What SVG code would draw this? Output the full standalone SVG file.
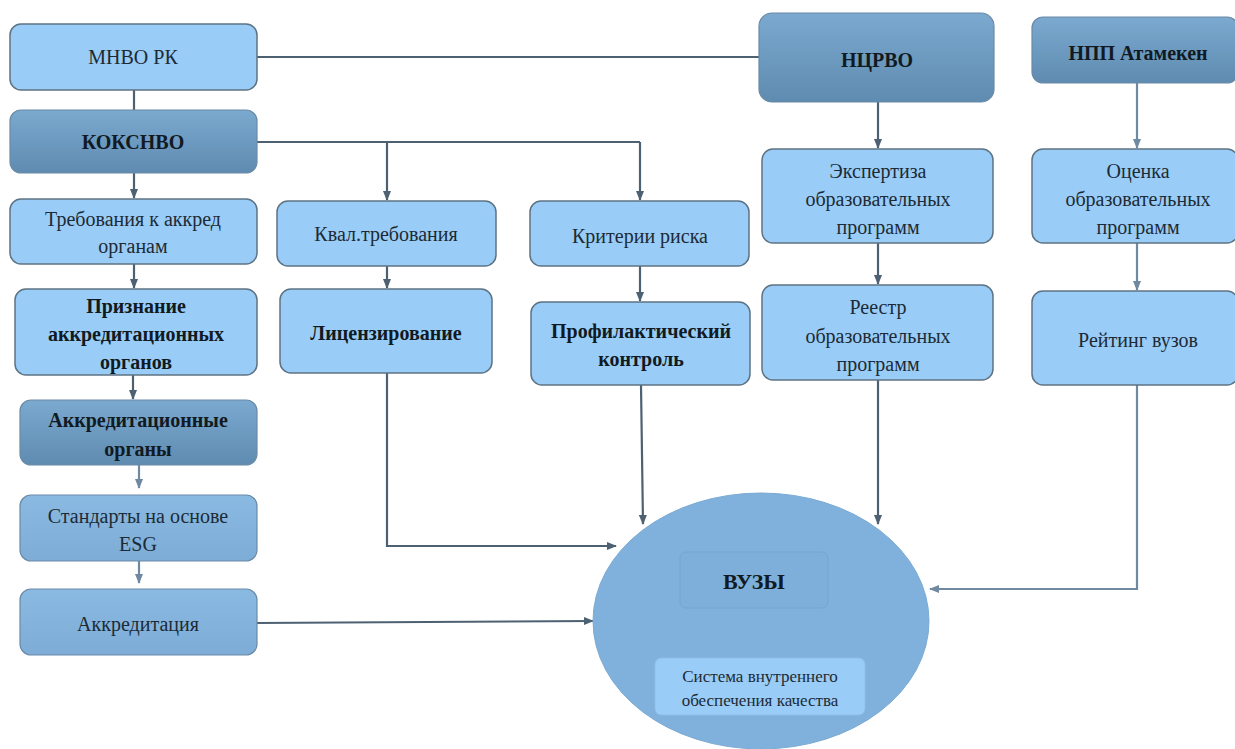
<svg xmlns="http://www.w3.org/2000/svg" width="1235" height="749" viewBox="0 0 1235 749">
<defs>
<linearGradient id="dk" x1="0" y1="0" x2="0" y2="1">
<stop offset="0" stop-color="#7ba9cf"/>
<stop offset="1" stop-color="#5f8bb0"/>
</linearGradient>
<linearGradient id="md" x1="0" y1="0" x2="0" y2="1">
<stop offset="0" stop-color="#8abae2"/>
<stop offset="1" stop-color="#7dadd6"/>
</linearGradient>
<marker id="ar" viewBox="0 0 10 10" refX="9" refY="5" markerWidth="10" markerHeight="10" markerUnits="userSpaceOnUse" orient="auto">
<path d="M0,1 L10,5 L0,9 z" fill="#4d6172"/>
</marker>
<marker id="ar2" viewBox="0 0 10 10" refX="9" refY="5" markerWidth="10" markerHeight="10" markerUnits="userSpaceOnUse" orient="auto">
<path d="M0,1 L10,5 L0,9 z" fill="#6f8aa0"/>
</marker>
</defs>
<style>
.lt{fill:#99cdf7;stroke:#5d7384;stroke-width:1.5}
.dk{fill:url(#dk);stroke:#6a8aa6;stroke-width:1.2}
.md{fill:url(#md);stroke:#6a8aa6;stroke-width:1.2}
.t{font-family:"Liberation Serif","Times New Roman",serif;font-size:20px;fill:#1d2a35;text-anchor:middle}
.b{font-weight:bold;fill:#111a22}
.c{fill:none;stroke:#4d6172;stroke-width:2.2}
.c2{fill:none;stroke:#6f8aa0;stroke-width:2.2}
</style>
<rect width="1235" height="749" fill="#ffffff"/>

<g id="connectors">
<path class="c" d="M257,57 H759"/>
<path class="c" d="M134,90 V110"/>
<path class="c" d="M257,142 H640"/>
<path class="c" d="M387,142 V200" marker-end="url(#ar)"/>
<path class="c" d="M640,142 V200" marker-end="url(#ar)"/>
<path class="c" d="M134,173 V198" marker-end="url(#ar)"/>
<path class="c" d="M134,264 V288" marker-end="url(#ar)"/>
<path class="c" d="M133,375 V399" marker-end="url(#ar)"/>
<path class="c2" d="M139,465 V488" marker-end="url(#ar2)"/>
<path class="c2" d="M139,561 V583" marker-end="url(#ar2)"/>
<path class="c" d="M387,266 V288" marker-end="url(#ar)"/>
<path class="c" d="M640,266 V301" marker-end="url(#ar)"/>
<path class="c" d="M387,373 V546 H616" marker-end="url(#ar)"/>
<path class="c" d="M641,385 L643,524" marker-end="url(#ar)"/>
<path class="c" d="M257,623 L593,621" marker-end="url(#ar)"/>
<path class="c" d="M878,102 V148" marker-end="url(#ar)"/>
<path class="c" d="M878,243 V284" marker-end="url(#ar)"/>
<path class="c" d="M878,380 V524" marker-end="url(#ar)"/>
<path class="c2" d="M1137,83 V148" marker-end="url(#ar2)"/>
<path class="c2" d="M1137,243 V290" marker-end="url(#ar2)"/>
<path class="c2" d="M1137,385 V589 H930" marker-end="url(#ar2)"/>
</g>

<g id="mnvo">
<rect class="lt" x="10" y="24" width="247" height="66" rx="11"/>
<text class="t" x="133" y="64">МНВО РК</text>
</g>
<g id="koksnvo">
<rect class="dk" x="10" y="110" width="247" height="63" rx="11"/>
<text class="t b" x="133" y="149">КОКСНВО</text>
</g>
<g id="treb">
<rect class="lt" x="10" y="199" width="247" height="65" rx="11"/>
<text class="t" x="133" y="226">Требования к аккред</text>
<text class="t" x="133" y="253">органам</text>
</g>
<g id="priznanie">
<rect class="lt" x="15" y="289" width="242" height="86" rx="11"/>
<text class="t b" x="136" y="313">Признание</text>
<text class="t b" x="136" y="341">аккредитационных</text>
<text class="t b" x="136" y="369">органов</text>
</g>
<g id="akkorg">
<rect class="dk" x="20" y="400" width="237" height="65" rx="11"/>
<text class="t b" x="138" y="427">Аккредитационные</text>
<text class="t b" x="138" y="456">органы</text>
</g>
<g id="standarty">
<rect class="md" x="20" y="495" width="237" height="66" rx="11"/>
<text class="t" x="138" y="523">Стандарты на основе</text>
<text class="t" x="138" y="551">ESG</text>
</g>
<g id="akkreditaciya">
<rect class="md" x="20" y="589" width="237" height="66" rx="11"/>
<text class="t" x="138" y="631">Аккредитация</text>
</g>
<g id="kval">
<rect class="lt" x="277" y="201" width="219" height="65" rx="11"/>
<text class="t" x="386" y="241">Квал.требования</text>
</g>
<g id="licenz">
<rect class="lt" x="280" y="289" width="212" height="84" rx="11"/>
<text class="t b" x="386" y="340">Лицензирование</text>
</g>
<g id="kriterii">
<rect class="lt" x="530" y="201" width="219" height="65" rx="11"/>
<text class="t" x="640" y="243">Критерии риска</text>
</g>
<g id="profil">
<rect class="lt" x="531" y="302" width="219" height="83" rx="11"/>
<text class="t b" x="641" y="338">Профилактический</text>
<text class="t b" x="641" y="366">контроль</text>
</g>
<g id="ncrvo">
<rect class="dk" x="759" y="13" width="235" height="89" rx="13"/>
<text class="t b" x="877" y="67">НЦРВО</text>
</g>
<g id="ekspertiza">
<rect class="lt" x="762" y="149" width="231" height="94" rx="11"/>
<text class="t" x="878" y="178">Экспертиза</text>
<text class="t" x="878" y="206">образовательных</text>
<text class="t" x="878" y="234">программ</text>
</g>
<g id="reestr">
<rect class="lt" x="762" y="285" width="231" height="95" rx="11"/>
<text class="t" x="878" y="314">Реестр</text>
<text class="t" x="878" y="343">образовательных</text>
<text class="t" x="878" y="371">программ</text>
</g>
<g id="npp">
<rect class="dk" x="1032" y="17" width="206" height="66" rx="11"/>
<text class="t b" x="1138" y="60">НПП Атамекен</text>
</g>
<g id="ocenka">
<rect class="lt" x="1032" y="149" width="206" height="94" rx="11"/>
<text class="t" x="1138" y="178">Оценка</text>
<text class="t" x="1138" y="206">образовательных</text>
<text class="t" x="1138" y="234">программ</text>
</g>
<g id="reyting">
<rect class="lt" x="1032" y="291" width="206" height="94" rx="11"/>
<text class="t" x="1138" y="347">Рейтинг вузов</text>
</g>
<g id="vuzy">
<ellipse cx="761" cy="621" rx="168" ry="128" fill="#80b1dc" stroke="#7aaad3" stroke-width="1"/>
<rect x="680" y="552" width="148" height="56" rx="6" fill="#7eafda" stroke="#74a4cf" stroke-width="1"/>
<text class="t b" x="754" y="589" style="font-size:22px">ВУЗЫ</text>
<rect x="655" y="658" width="210" height="57" rx="6" fill="#99cdf7" stroke="#8dbde6" stroke-width="1"/>
<text class="t" x="760" y="682" style="font-size:17px">Система внутреннего</text>
<text class="t" x="760" y="706" style="font-size:17px">обеспечения качества</text>
</g>
</svg>
